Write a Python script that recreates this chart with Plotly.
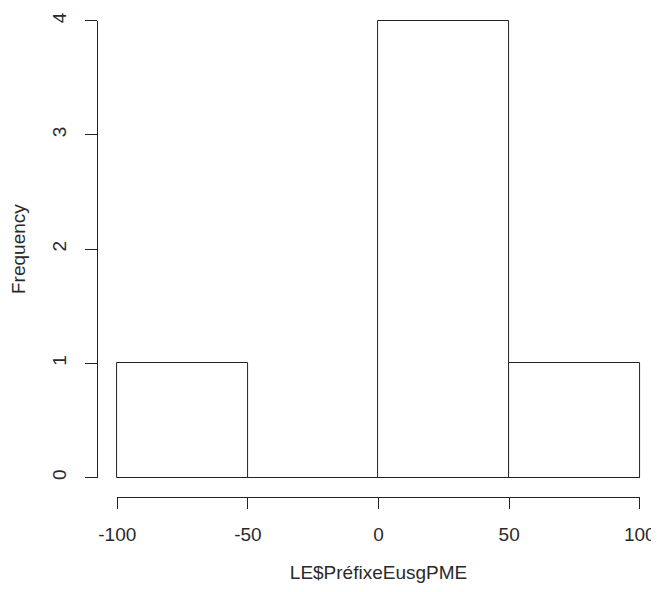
import plotly.graph_objects as go

# Histogram bins (breaks) and counts
breaks = [-100, -50, 0, 50, 100]
counts = [1, 0, 4, 1]
x_ticks = [-100, -50, 0, 50, 100]
y_ticks = [0, 1, 2, 3, 4]

mids = [(a + b) / 2 for a, b in zip(breaks[:-1], breaks[1:])]
widths = [b - a for a, b in zip(breaks[:-1], breaks[1:])]

# page body has an 8px margin, so the figure is drawn 8px in from the corner
OFF = 8
W, H = 659 - OFF, 592 - 2 * OFF
# pixel targets of the R plot region (screen coords, shifted into figure coords)
px_left, px_right = 117.3 - OFF, 640.0 - OFF      # x = -100 .. 100
py_bottom, py_top = 477.5 - OFF, 20.5 - OFF       # y = 0 .. 4
axis_x = 97.0 - OFF                               # y axis line position
axis_y = 497.0 - OFF                              # x axis line position

# small padding so bar outlines at the edges are not clipped
pad_x = 2.0
pad_y = 0.05
sx = (px_right - px_left) / (breaks[-1] - breaks[0])
sy = (py_bottom - py_top) / max(counts)
pl = px_left - pad_x * sx
pr = px_right + pad_x * sx
pb = py_bottom + pad_y * sy
pt = py_top - pad_y * sy

ml, mr, mt, mb = axis_x, W - pr, pt, H - axis_y
paper_w = pr - ml
paper_h = axis_y - mt


def fx(p):
    return (p - ml) / paper_w


def fy(p):
    return (axis_y - p) / paper_h


fig = go.Figure()

# Bars of the histogram, white with black outline (R base style)
fig.add_trace(go.Bar(
    x=mids, y=counts, width=widths,
    marker=dict(color='white', line=dict(color='#222222', width=1)),
    showlegend=False, hoverinfo='x+y',
))

# Bottom edge of every bin (empty bins still show their base line)
fig.add_trace(go.Scatter(
    x=[breaks[0], breaks[-1]], y=[0, 0], mode='lines',
    line=dict(color='#222222', width=1),
    showlegend=False, hoverinfo='skip',
))

# invisible trace that carries the visible R-style axes
fig.add_trace(go.Scatter(
    x=[breaks[0], breaks[-1]], y=[0, max(counts)], mode='markers',
    marker=dict(opacity=0), xaxis='x2', yaxis='y2',
    showlegend=False, hoverinfo='skip',
))

tick_font = dict(family='Liberation Sans, Arial, sans-serif', size=19, color='#2a2a2a')
title_font = dict(family='Liberation Sans, Arial, sans-serif', size=19, color='#2a2a2a')

fig.update_layout(
    width=W,
    height=H,
    margin=dict(l=ml, r=mr, t=mt, b=mb, autoexpand=False),
    plot_bgcolor='rgba(0,0,0,0)',
    paper_bgcolor='white',
    bargap=0,
    xaxis=dict(
        domain=[fx(pl), 1], range=[breaks[0] - pad_x, breaks[-1] + pad_x],
        visible=False, fixedrange=True,
    ),
    yaxis=dict(
        domain=[fy(pb), 1], range=[-pad_y, max(counts) + pad_y],
        visible=False, fixedrange=True,
    ),
    xaxis2=dict(
        domain=[fx(px_left), fx(px_right)], range=[breaks[0], breaks[-1]],
        anchor='free', position=0,
        tickvals=x_ticks, ticktext=[str(v) for v in x_ticks],
        tickfont=tick_font, ticklabeloverflow='allow',
        showline=True, linecolor='#222222', linewidth=1,
        ticks='outside', ticklen=11, tickcolor='#222222', tickwidth=1,
        ticklabelstandoff=9,
        showgrid=False, zeroline=False, automargin=False,
        title=dict(text='LE$PréfixeEusgPME', standoff=21, font=title_font),
    ),
    yaxis2=dict(
        domain=[fy(py_bottom), fy(py_top)], range=[0, max(counts)],
        anchor='free', position=0,
        tickvals=y_ticks, ticktext=[str(v) for v in y_ticks],
        tickangle=-90, tickfont=tick_font,
        showline=True, linecolor='#222222', linewidth=1,
        ticks='outside', ticklen=12, tickcolor='#222222', tickwidth=1,
        ticklabelstandoff=11,
        showgrid=False, zeroline=False, automargin=False,
        title=dict(text='Frequency', standoff=26, font=title_font),
    ),
)

fig.write_html("out.html")
